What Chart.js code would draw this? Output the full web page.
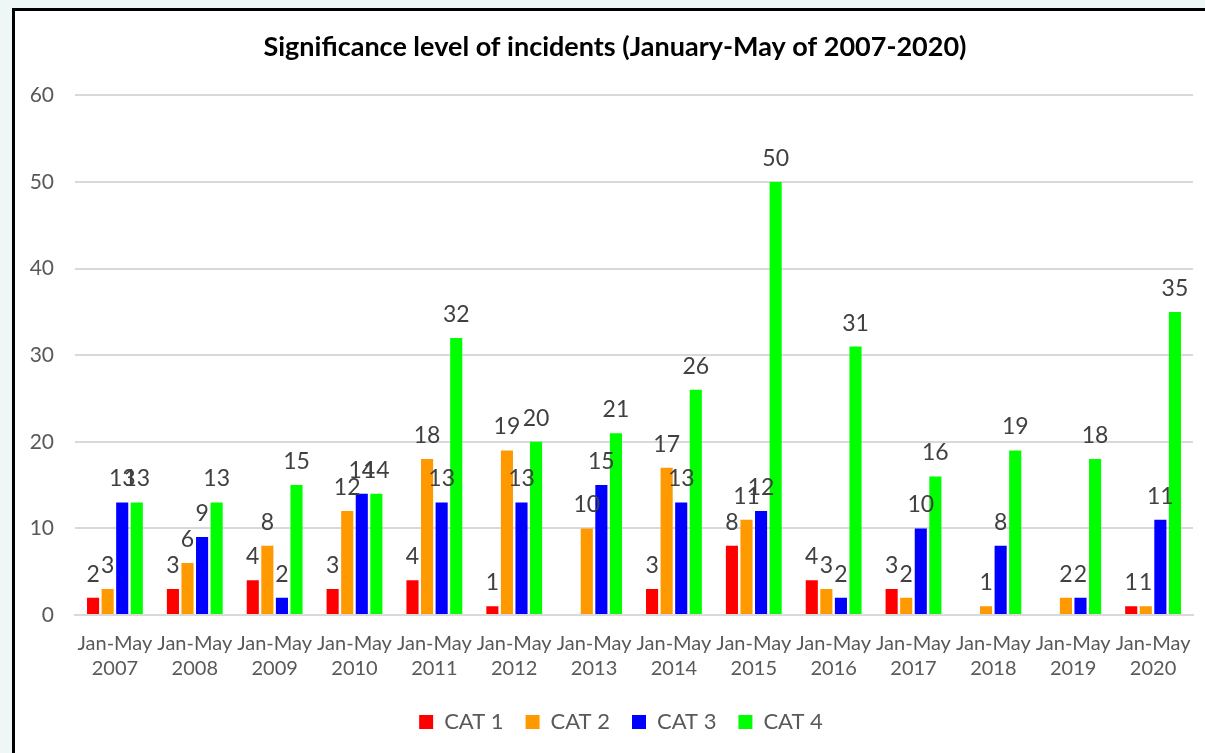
<!DOCTYPE html>
<html>
<head>
<meta charset="utf-8">
<script src="https://cdn.jsdelivr.net/npm/chart.js@4/dist/chart.umd.min.js"></script>
<style>
  html, body { margin: 0; padding: 0; background: #eef6f6; }
  #frame {
    position: absolute; left: 12px; top: 8px; width: 1200px; height: 750px;
    background: #fff; border-left: 3px solid #000; border-top: 3px solid #000;
  }
  #wrap { position: absolute; left: 0; top: 0; width: 1205px; height: 753px; }
</style>
</head>
<body>
<div id="frame"></div>
<div id="wrap"><canvas id="c" width="1205" height="753"></canvas></div>
<script>
// data (null = no bar shown)
const years = ['2007','2008','2009','2010','2011','2012','2013','2014','2015','2016','2017','2018','2019','2020'];
const cat1 = [2, 3, 4, 3, 4, 1, null, 3, 8, 4, 3, null, null, 1];
const cat2 = [3, 6, 8, 12, 18, 19, 10, 17, 11, 3, 2, 1, 2, 1];
const cat3 = [13, 9, 2, 14, 13, 13, 15, 13, 12, 2, 10, 8, 2, 11];
const cat4 = [13, 13, 15, 14, 32, 20, 21, 26, 50, 31, 16, 19, 18, 35];
const yTicks = [0, 10, 20, 30, 40, 50, 60];

const labels = years.map(y => ['Jan-May', y]);
const FONT = 'Lato, "Open Sans", sans-serif';
const GREY = '#595959';

// labels on top of the bars
const barLabels = {
  id: 'barLabels',
  afterLayout(chart) {
    // legend and title sit a bit right of centre in the original
    chart.legend.left += 17;
    chart.legend.right += 17;
    chart.titleBlock.left += 11;
    chart.titleBlock.right += 11;
  },
  afterDatasetsDraw(chart) {
    const ctx = chart.ctx;
    ctx.save();
    ctx.font = '23px ' + FONT;
    ctx.fillStyle = '#404040';
    ctx.textAlign = 'center';
    ctx.textBaseline = 'alphabetic';
    chart.data.datasets.forEach((ds, i) => {
      const meta = chart.getDatasetMeta(i);
      meta.data.forEach((bar, j) => {
        const v = ds.data[j];
        if (v === null || v === undefined) return;
        ctx.fillText(String(v), bar.x, bar.y - 16);
      });
    });
    ctx.restore();
  }
};

new Chart(document.getElementById('c'), {
  type: 'bar',
  data: {
    labels: labels,
    datasets: [
      { label: 'CAT 1', data: cat1, backgroundColor: '#ff0000' },
      { label: 'CAT 2', data: cat2, backgroundColor: '#ff9900' },
      { label: 'CAT 3', data: cat3, backgroundColor: '#0000ff' },
      { label: 'CAT 4', data: cat4, backgroundColor: '#00ff00' }
    ]
  },
  options: {
    responsive: false,
    animation: false,
    datasets: { bar: { categoryPercentage: 0.73, barPercentage: 0.83 } },
    layout: { padding: { left: 15, right: 12, top: 0, bottom: 10 } },
    plugins: {
      title: {
        display: true,
        text: 'Significance level of incidents (January-May of 2007-2020)',
        color: '#000',
        font: { family: FONT, size: 27, weight: 'bold' },
        padding: { top: 31, bottom: 32 }
      },
      legend: {
        position: 'bottom',
        labels: {
          color: GREY,
          font: { family: FONT, size: 22 },
          boxWidth: 14, boxHeight: 14,
          padding: 22
        }
      },
      tooltip: { enabled: false }
    },
    scales: {
      x: {
        grid: { display: false },
        border: { color: '#d9d9d9', width: 2 },
        ticks: {
          color: GREY,
          font: { family: FONT, size: 20, lineHeight: 1.25 },
          maxRotation: 0, autoSkip: false, padding: 8
        }
      },
      y: {
        min: 0, max: 60,
        afterFit(scale) { scale.width = 60; },
        afterBuildTicks(scale) { scale.ticks = yTicks.map(v => ({ value: v })); },
        grid: { color: '#d9d9d9', lineWidth: 2, drawTicks: false },
        border: { display: false },
        ticks: {
          color: GREY,
          font: { family: FONT, size: 21 },
          padding: 21
        }
      }
    }
  },
  plugins: [barLabels]
});
</script>
</body>
</html>
